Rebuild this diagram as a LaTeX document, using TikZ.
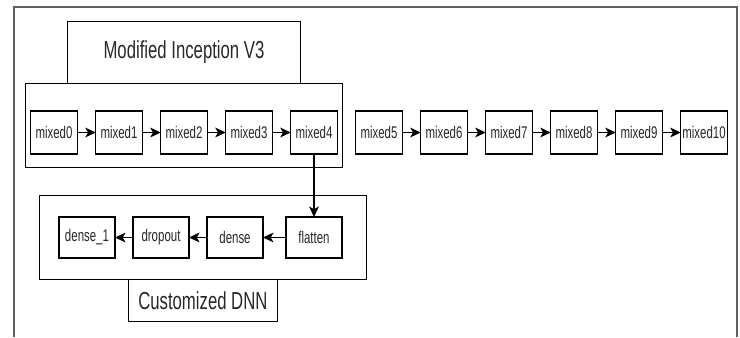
\documentclass[tikz,border=0pt]{standalone}
\usepackage{fontspec}
\setmainfont{Liberation Sans}
\newfontfamily\narrowsf[FakeStretch=0.68]{Liberation Sans}
\usetikzlibrary{arrows.meta, positioning, fit}
\definecolor{FrameGray}{RGB}{95, 95, 95}
\definecolor{LabelInk}{RGB}{40, 40, 40}
\tikzset{
  layer/.style={rectangle, draw=black, line width=0.9pt, fill=white, outer sep=0pt,
                minimum width=1.1625cm, minimum height=1.075cm, inner sep=0pt,
                font=\narrowsf\fontsize{12}{14}\selectfont, text=LabelInk, align=center},
  dlayer/.style={layer, minimum width=1.4cm, minimum height=1.025cm},
  grpbox/.style={rectangle, draw=black, line width=0.7pt, outer sep=0pt},
  tagbox/.style={rectangle, draw=black, line width=0.7pt, outer sep=0pt, inner sep=0pt,
                 font=\narrowsf\fontsize{#1}{#1}\selectfont, text=LabelInk},
  arr/.style={-{Stealth[length=7.5pt, width=7pt, inset=2pt]}, line width=0.8pt},
}

\begin{document}
\begin{tikzpicture}
      \useasboundingbox (0,0) rectangle (18.5,8.425);
      % page frame, open at the bottom
      \draw[FrameGray, line width=1.4pt] (0.35,0) -- (0.35,8.25) -- (18.425,8.25) -- (18.425,0);

      % Inception V3 blocks
      \node[layer] (m0) at (1.35,5.1125) {mixed0};
      \node[layer, right=0.4625cm of m0] (m1) {mixed1};
      \node[layer, right=0.4625cm of m1] (m2) {mixed2};
      \node[layer, right=0.4625cm of m2] (m3) {mixed3};
      \node[layer, right=0.4625cm of m3] (m4) {mixed4};
      \node[layer, right=0.4625cm of m4] (m5) {mixed5};
      \node[layer, right=0.4625cm of m5] (m6) {mixed6};
      \node[layer, right=0.4625cm of m6] (m7) {mixed7};
      \node[layer, right=0.4625cm of m7] (m8) {mixed8};
      \node[layer, right=0.4625cm of m8] (m9) {mixed9};
      \node[layer, right=0.4625cm of m9] (m10) {mixed10};

      % kept part of the backbone
      \node[grpbox, fit=(m0)(m4), inner xsep=0.125cm, inner ysep=0.5125cm, yshift=0.1875cm] (incep) {};
      \node[tagbox=17.5, minimum width=5.825cm, minimum height=1.55cm, above=0pt of incep] (inctag) {Modified Inception V3};

      % Customized DNN head
      \node[dlayer, below=1.575cm of m4] (flat) {flatten};
      \node[dlayer, left=0.575cm of flat] (dense) {dense};
      \node[dlayer, left=0.45cm of dense] (drop) {dropout};
      \node[dlayer, left=0.45cm of drop] (dense1) {dense\_1};
      \node[grpbox, fit=(dense1)(flat), inner xsep=0.54cm, inner ysep=0.54cm, xshift=0.06cm] (dnn) {};
      \node[tagbox=17.5, minimum width=3.725cm, minimum height=1.05cm, below=0pt of dnn] (dnntag) {Customized DNN};

      \draw[arr] (m0) -- (m1);
      \draw[arr] (m1) -- (m2);
      \draw[arr] (m2) -- (m3);
      \draw[arr] (m3) -- (m4);
      \draw[arr] (m5) -- (m6);
      \draw[arr] (m6) -- (m7);
      \draw[arr] (m7) -- (m8);
      \draw[arr] (m8) -- (m9);
      \draw[arr] (m9) -- (m10);

      \draw[arr] (m4.south) -- (flat.north);
      \draw[arr] (flat) -- (dense);
      \draw[arr] (dense) -- (drop);
      \draw[arr] (drop) -- (dense1);
    \end{tikzpicture}
\end{document}
